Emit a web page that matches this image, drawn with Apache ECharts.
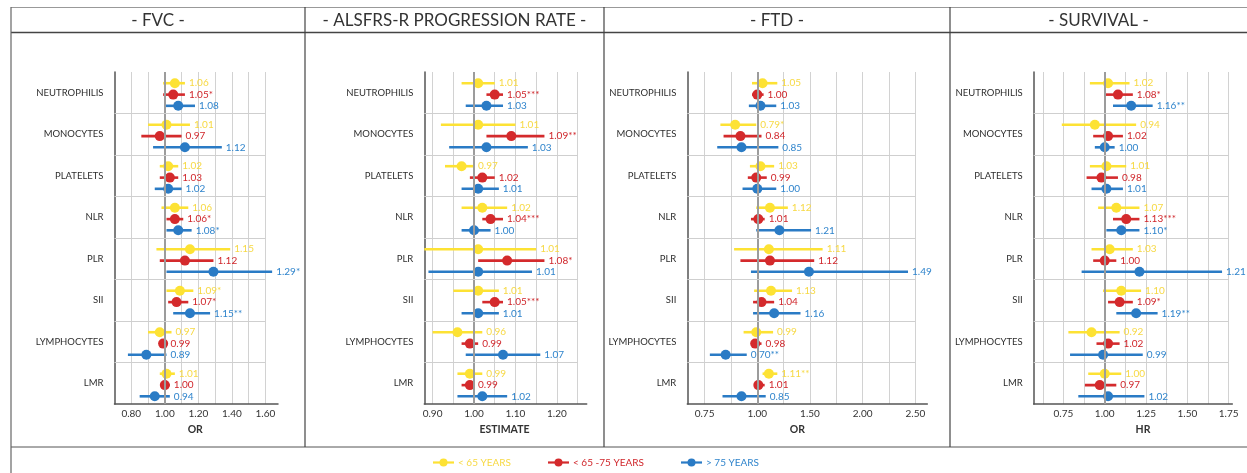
<!DOCTYPE html>
<html><head><meta charset="utf-8">
<script src="https://cdn.jsdelivr.net/npm/echarts@6/dist/echarts.min.js"></script>
<style>html,body{margin:0;padding:0;background:#fff}#c{width:1247px;height:473px}</style>
</head><body><div id="c"></div>
<script>
// ---------------- DATA ----------------
const categories = ['NEUTROPHILIS','MONOCYTES','PLATELETS','NLR','PLR','SII','LYMPHOCYTES','LMR'];
const groups = ['< 65 YEARS','< 65 -75 YEARS','> 75 YEARS'];
const panelTitles = ['- FVC -','- ALSFRS-R PROGRESSION RATE -','- FTD -','- SURVIVAL -'];
const axisNames = ['OR','ESTIMATE','OR','HR'];

// FVC
const fvcYoungEst = [1.06,1.01,1.02,1.06,1.15,1.09,0.97,1.01];
const fvcYoungLo  = [0.99,0.90,0.97,0.98,0.95,1.01,0.90,0.97];
const fvcYoungHi  = [1.12,1.15,1.08,1.14,1.39,1.17,1.04,1.06];
const fvcYoungSig = ['','','','','','*','',''];
const fvcMidEst   = [1.05,0.97,1.03,1.06,1.12,1.07,0.99,1.00];
const fvcMidLo    = [0.99,0.86,0.97,1.01,0.97,1.02,0.97,0.98];
const fvcMidHi    = [1.12,1.10,1.08,1.11,1.29,1.14,1.01,1.03];
const fvcMidSig   = ['*','','','*','','*','',''];
const fvcOldEst   = [1.08,1.12,1.02,1.08,1.29,1.15,0.89,0.94];
const fvcOldLo    = [1.00,0.93,0.94,1.01,1.01,1.05,0.78,0.85];
const fvcOldHi    = [1.18,1.34,1.10,1.16,1.64,1.27,1.01,1.03];
const fvcOldSig   = ['','','','*','*','**','',''];

// ALSFRS-R progression rate
const alsYoungEst = [1.01,1.01,0.97,1.02,1.01,1.01,0.96,0.99];
const alsYoungLo  = [0.97,0.92,0.93,0.97,0.88,0.95,0.90,0.96];
const alsYoungHi  = [1.05,1.10,1.00,1.08,1.15,1.06,1.02,1.02];
const alsYoungSig = ['','','','','','','',''];
const alsMidEst   = [1.05,1.09,1.02,1.04,1.08,1.05,0.99,0.99];
const alsMidLo    = [1.03,1.03,0.99,1.02,1.01,1.02,0.97,0.97];
const alsMidHi    = [1.07,1.17,1.05,1.07,1.17,1.07,1.01,1.00];
const alsMidSig   = ['***','**','','***','*','***','',''];
const alsOldEst   = [1.03,1.03,1.01,1.00,1.01,1.01,1.07,1.02];
const alsOldLo    = [0.98,0.94,0.97,0.97,0.89,0.97,0.98,0.96];
const alsOldHi    = [1.07,1.13,1.06,1.04,1.14,1.06,1.16,1.08];
const alsOldSig   = ['','','','','','','',''];

// FTD
const ftdYoungEst = [1.05,0.79,1.03,1.12,1.11,1.13,0.99,1.11];
const ftdYoungLo  = [0.95,0.65,0.93,0.99,0.78,0.97,0.87,1.05];
const ftdYoungHi  = [1.19,0.99,1.16,1.29,1.62,1.33,1.15,1.19];
const ftdYoungSig = ['','*','','','','','','**'];
const ftdMidEst   = [1.00,0.84,0.99,1.01,1.12,1.04,0.98,1.01];
const ftdMidLo    = [0.95,0.68,0.91,0.94,0.84,0.96,0.95,0.97];
const ftdMidHi    = [1.06,1.04,1.09,1.07,1.54,1.16,1.04,1.07];
const ftdMidSig   = ['','','','','','','',''];
const ftdOldEst   = [1.03,0.85,1.00,1.21,1.49,1.16,0.70,0.85];
const ftdOldLo    = [0.92,0.62,0.86,0.99,0.94,0.96,0.55,0.67];
const ftdOldHi    = [1.18,1.20,1.18,1.51,2.43,1.41,0.90,1.08];
const ftdOldSig   = ['','','','','','','**',''];

// SURVIVAL
const survYoungEst = [1.02,0.94,1.01,1.07,1.03,1.10,0.92,1.00];
const survYoungLo  = [0.91,0.74,0.91,0.96,0.92,0.99,0.78,0.90];
const survYoungHi  = [1.15,1.19,1.13,1.21,1.17,1.22,1.09,1.10];
const survYoungSig = ['','','','','','','',''];
const survMidEst   = [1.08,1.02,0.98,1.13,1.00,1.09,1.02,0.97];
const survMidLo    = [1.00,0.93,0.89,1.05,0.93,1.02,0.95,0.88];
const survMidHi    = [1.17,1.11,1.08,1.21,1.07,1.17,1.09,1.07];
const survMidSig   = ['*','','','***','','*','',''];
const survOldEst   = [1.16,1.00,1.01,1.10,1.21,1.19,0.99,1.02];
const survOldLo    = [1.05,0.94,0.92,1.01,0.86,1.07,0.79,0.84];
const survOldHi    = [1.29,1.06,1.11,1.21,1.71,1.32,1.23,1.24];
const survOldSig   = ['**','','','*','','**','',''];

// axis ranges, grid values and tick labels
const fvcRange  = [0.70, 1.675];
const fvcGrid   = [0.8,0.9,1.0,1.1,1.2,1.3,1.4,1.5,1.6];
const fvcTicks  = [0.8,1.0,1.2,1.4,1.6];
const fvcTickLabels = ['0.80','1.00','1.20','1.40','1.60'];
const alsRange  = [0.88, 1.272];
const alsGrid   = [0.90,0.95,1.00,1.05,1.10,1.15,1.20,1.25];
const alsTicks  = [0.9,1.0,1.1,1.2];
const alsTickLabels = ['0.90','1.00','1.10','1.20'];
const ftdRange  = [0.336, 2.613];
const ftdGrid   = [0.5,0.75,1.0,1.25,1.5,1.75,2.0,2.25,2.5];
const ftdTicks  = [0.5,1.0,1.5,2.0,2.5];
const ftdTickLabels = ['0.75','1.00','1.50','2.00','2.50'];
const survRange = [0.570, 1.772];
const survGrid  = [0.625,0.75,0.875,1.0,1.125,1.25,1.375,1.5,1.625,1.75];
const survTicks = [0.75,1.0,1.25,1.5,1.75];
const survTickLabels = ['0.75','1.00','1.25','1.50','1.75'];

// ---------------- LAYOUT / STYLE ----------------
const FONT = 'Lato';
const colors = ['#FDE234','#D42A2C','#2A7BC5'];
const textColors = ['#F7D944','#D0262B','#2F84CC'];
const rowOffsets = [0.27, 0.545, 0.815];
const gridBoxes = [
  {left:114.5, width:163.5},
  {left:424.3, width:162.4},
  {left:687.3, width:240},
  {left:1033.7, width:198.6}
];
const nameShift = [-1, -1, -10, 10];   // horizontal nudge of axis titles (px)
const GRID_TOP = 72, GRID_H = 332;

const panels = [
  {range:fvcRange, grid:fvcGrid, ticks:fvcTicks, tickLabels:fvcTickLabels,
   est:[fvcYoungEst,fvcMidEst,fvcOldEst], lo:[fvcYoungLo,fvcMidLo,fvcOldLo], hi:[fvcYoungHi,fvcMidHi,fvcOldHi], sig:[fvcYoungSig,fvcMidSig,fvcOldSig]},
  {range:alsRange, grid:alsGrid, ticks:alsTicks, tickLabels:alsTickLabels,
   est:[alsYoungEst,alsMidEst,alsOldEst], lo:[alsYoungLo,alsMidLo,alsOldLo], hi:[alsYoungHi,alsMidHi,alsOldHi], sig:[alsYoungSig,alsMidSig,alsOldSig]},
  {range:ftdRange, grid:ftdGrid, ticks:ftdTicks, tickLabels:ftdTickLabels,
   est:[ftdYoungEst,ftdMidEst,ftdOldEst], lo:[ftdYoungLo,ftdMidLo,ftdOldLo], hi:[ftdYoungHi,ftdMidHi,ftdOldHi], sig:[ftdYoungSig,ftdMidSig,ftdOldSig]},
  {range:survRange, grid:survGrid, ticks:survTicks, tickLabels:survTickLabels,
   est:[survYoungEst,survMidEst,survOldEst], lo:[survYoungLo,survMidLo,survOldLo], hi:[survYoungHi,survMidHi,survOldHi], sig:[survYoungSig,survMidSig,survOldSig]}
];

function makeRender(color, textColor, labels) {
  return function (params, api) {
    const yv = api.value(3);
    const pLo = api.coord([api.value(0), yv]);
    const pHi = api.coord([api.value(1), yv]);
    const pE = api.coord([api.value(2), yv]);
    return {type:'group', children:[
      {type:'line', shape:{x1:pLo[0], y1:pLo[1], x2:pHi[0], y2:pHi[1]}, style:{stroke:color, lineWidth:2.6}},
      {type:'circle', shape:{cx:pE[0], cy:pE[1], r:5}, style:{fill:color}},
      {type:'text', x:pHi[0] + 4, y:pHi[1], style:{text:labels[params.dataIndex], fill:textColor, font:'10px ' + FONT, align:'left', verticalAlign:'middle'}}
    ]};
  };
}

const grids = [], xAxes = [], yAxes = [], series = [];
panels.forEach((p, k) => {
  grids.push({left:gridBoxes[k].left, width:gridBoxes[k].width, top:GRID_TOP, height:GRID_H, containLabel:false});
  const s = nameShift[k];
  xAxes.push({
    gridIndex:k, type:'value', min:p.range[0], max:p.range[1],
    axisLine:{show:true, onZero:false, lineStyle:{color:'#555', width:1.5}},
    axisTick:{show:false, customValues:p.grid},
    axisLabel:{customValues:p.ticks, color:'#333', fontSize:10, fontFamily:FONT, margin:5,
      formatter:(v)=>{const i = p.ticks.findIndex(t=>Math.abs(t-v)<1e-6); return i>=0 ? p.tickLabels[i] : '';}},
    splitLine:{show:true, lineStyle:{color:'#d2d2d2', width:1}},
    name:axisNames[k], nameLocation:'middle', nameGap:20,
    nameTextStyle:{fontWeight:'bold', fontSize:10.5, color:'#333', fontFamily:FONT,
      padding: s < 0 ? [0, -2*s, 0, 0] : [0, 0, 0, 2*s]}
  });
  yAxes.push({
    gridIndex:k, type:'category', data:categories, inverse:true,
    axisLine:{show:true, lineStyle:{color:'#555', width:1.5}},
    axisTick:{show:false},
    axisLabel:{color:'#2e2e2e', fontSize:9.5, fontFamily:FONT, margin:11},
    splitLine:{show:false}
  });
  yAxes.push({gridIndex:k, type:'value', min:0, max:categories.length, inverse:true, show:false});
  const yIdx = 2*k + 1;
  // reference line at 1 and row separators
  const lastGrid = p.grid[p.grid.length - 1];
  const mlData = [{xAxis:1, lineStyle:{color:'#9c9c9c', width:2, type:'solid'}}];
  for (let i = 1; i < categories.length; i++) {
    mlData.push([{coord:[p.range[0], i], lineStyle:{color:'#cfcfcf', width:1, type:'solid'}}, {coord:[lastGrid, i]}]);
  }
  series.push({type:'line', xAxisIndex:k, yAxisIndex:yIdx, data:[], silent:true, z:1,
    markLine:{silent:true, symbol:['none','none'], label:{show:false}, animation:false, data:mlData}});
  for (let g = 0; g < 3; g++) {
    const labels = p.est[g].map((v,i)=>v.toFixed(2) + p.sig[g][i]);
    const data = categories.map((c,i)=>[p.lo[g][i], p.hi[g][i], p.est[g][i], i + rowOffsets[g]]);
    series.push({type:'custom', name:groups[g], xAxisIndex:k, yAxisIndex:yIdx, z:3,
      renderItem:makeRender(colors[g], textColors[g], labels), data:data, clip:false,
      encode:{x:[0,1,2], y:3}});
  }
});

// frame + headers + legend
const frameColor = '#444';
const graphic = [];
const colX = [11, 305, 604, 950, 1247];
graphic.push({type:'line', shape:{x1:11, y1:7.5, x2:1247, y2:7.5}, style:{stroke:'#999', lineWidth:1}});
graphic.push({type:'line', shape:{x1:11, y1:32.5, x2:1247, y2:32.5}, style:{stroke:frameColor, lineWidth:1.5}});
graphic.push({type:'line', shape:{x1:11, y1:447, x2:1247, y2:447}, style:{stroke:'#555', lineWidth:1}});
graphic.push({type:'line', shape:{x1:11, y1:7, x2:11, y2:473}, style:{stroke:'#666', lineWidth:1.2}});
[305, 604, 950].forEach(x => graphic.push({type:'line', shape:{x1:x, y1:7, x2:x, y2:447}, style:{stroke:frameColor, lineWidth:1.2}}));
panelTitles.forEach((t, k) => {
  graphic.push({type:'text', x:(colX[k] + colX[k+1]) / 2, y:20.5,
    style:{text:t, fill:'#333', font:'17px ' + FONT, align:'center', verticalAlign:'middle'}});
});
const legendIconX = [433, 548, 681];
groups.forEach((name, g) => {
  const x0 = legendIconX[g], y0 = 462.5;
  graphic.push({type:'line', shape:{x1:x0, y1:y0, x2:x0+21, y2:y0}, style:{stroke:colors[g], lineWidth:2.2}});
  graphic.push({type:'circle', shape:{cx:x0+10.5, cy:y0, r:4}, style:{fill:colors[g]}});
  graphic.push({type:'text', x:x0+25, y:y0, style:{text:name, fill:textColors[g], font:'10px ' + FONT, align:'left', verticalAlign:'middle'}});
});

const chart = echarts.init(document.getElementById('c'), null, {renderer:'canvas'});
chart.setOption({
  animation:false,
  backgroundColor:'#fff',
  textStyle:{fontFamily:FONT},
  grid:grids, xAxis:xAxes, yAxis:yAxes, series:series, graphic:graphic
});
</script></body></html>
